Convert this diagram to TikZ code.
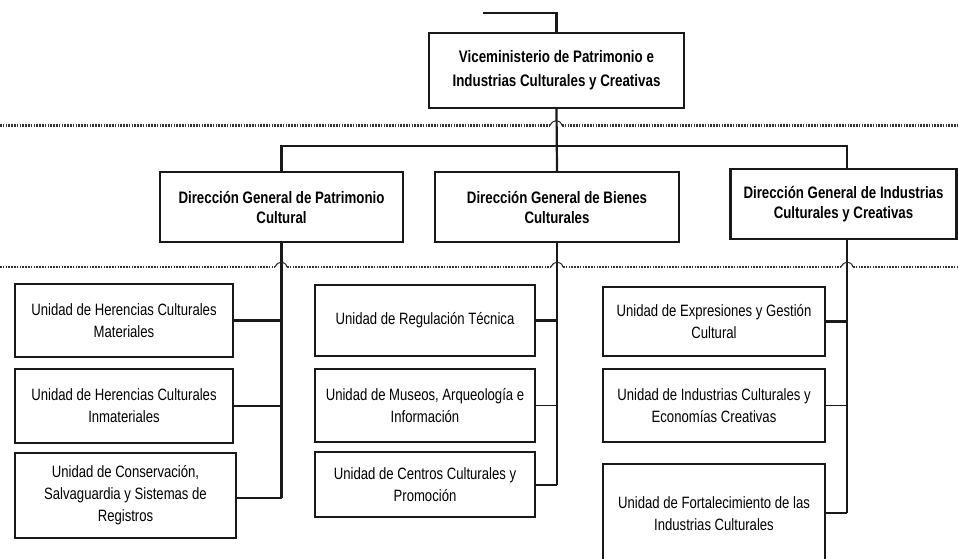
\documentclass[tikz,border=0pt]{standalone}
\usepackage{fontspec}
\setmainfont[FakeStretch=0.8]{Liberation Sans}
\begin{document}
\begin{tikzpicture}[x=1pt,y=-1pt,
  box/.style={draw=black!90,line width=2.2pt,fill=white,align=center,inner sep=0pt,font=\fontsize{16.4}{22}\selectfont},
  hbox/.style={box,font=\fontsize{16.6}{20}\selectfont\bfseries},
  vbox/.style={box,font=\fontsize{16.7}{24}\selectfont\bfseries},
  conn/.style={line width=2.2pt,black!90},
  thin/.style={line width=1.3pt,black!90},
  dots/.style={line width=2.2pt,black!80,dash pattern=on 1.5pt off 1.3pt},
  hop/.style={line width=1pt,black!85}]
\useasboundingbox (0,0) rectangle (958,559);
\clip (0,0) rectangle (958,559);
% dotted separators
\draw[dots] (0,125.5) -- (550,125.5);
\draw[dots] (562,125.5) -- (958,125.5);
\draw[dots] (0,267) -- (275,267);
\draw[dots] (287,267) -- (551,267);
\draw[dots] (563,267) -- (841,267);
\draw[dots] (853,267) -- (958,267);
% top
\node[vbox,minimum width=255,minimum height=75] (vice) at (556.5,70.5) {Viceministerio de Patrimonio e\\Industrias Culturales y Creativas};
\coordinate (top) at (483,13);
\draw[conn] (top) -| (vice.north);
% level 2
\node[hbox,minimum width=243,minimum height=70] (dgp) at (281.5,207) {Direcci\'on General de Patrimonio\\Cultural};
\node[hbox,minimum width=244,minimum height=70] (dgb) at (557,207) {Direcci\'on General de Bienes\\Culturales};
\node[hbox,minimum width=226,minimum height=70] (dgi) at (843.5,204) {Direcci\'on General de Industrias\\Culturales y Creativas};
\coordinate (hR) at (847,146);
\coordinate (dR) at (847,239);
\draw[conn] (vice.south) -- (dgb.north);
\draw[conn] (dgp.north) |- (hR) -- (hR |- dgi.north);
% level 3 left
\node[box,minimum width=218,minimum height=73] (u1) at (124,320.5) {Unidad de Herencias Culturales\\Materiales};
\node[box,minimum width=218,minimum height=74] (u2) at (124,406) {Unidad de Herencias Culturales\\Inmateriales};
\node[box,minimum width=221,minimum height=85] (u3) at (125.5,495.5) {Unidad de Conservaci\'on,\\Salvaguardia y Sistemas de\\Registros};
% level 3 middle
\node[box,minimum width=220,minimum height=71] (m1) at (425,320.5) {Unidad de Regulaci\'on T\'ecnica};
\node[box,minimum width=220,minimum height=73] (m2) at (425,405.5) {Unidad de Museos, Arqueolog\'ia e\\Informaci\'on};
\node[box,minimum width=220,minimum height=65] (m3) at (425,484.5) {Unidad de Centros Culturales y\\Promoci\'on};
% level 3 right
\node[box,minimum width=222,minimum height=69] (r1) at (714,321.5) {Unidad de Expresiones y Gesti\'on\\Cultural};
\node[box,minimum width=222,minimum height=73] (r2) at (714,405.5) {Unidad de Industrias Culturales y\\Econom\'ias Creativas};
\node[box,minimum width=222,minimum height=100] (r3) at (714,514) {Unidad de Fortalecimiento de las\\Industrias Culturales};
% verticals and connectors
\coordinate (lL) at (281.5,498);
\coordinate (lM) at (557,485);
\coordinate (lR) at (847,513);
\draw[conn] (dgp.south) -- (lL);
\draw[conn] (dgb.south) -- (lM);
\draw[conn] (dR) -- (lR);
\draw[conn] (u1.east) -- (u1.east -| lL);
\draw[thin] (u2.east) -- (u2.east -| lL);
\draw[conn] (lL) -- (lL -| u3.east);
\draw[conn] (m1.east) -- (m1.east -| lM);
\draw[thin] (m2.east) -- (m2.east -| lM);
\draw[conn] (lM) -- (lM -| m3.east);
\draw[conn] (r1.east) -- (r1.east -| lR);
\draw[thin] (r2.east) -- (r2.east -| lR);
\draw[conn] (lR) -- (lR -| r3.east);
% hops at crossings
\draw[hop] (550,125.5) .. controls (553,119) and (560,119) .. (562,125.5);
\draw[hop] (275,267) .. controls (278,260.5) and (285,260.5) .. (287,267);
\draw[hop] (551,267) .. controls (554,260.5) and (561,260.5) .. (563,267);
\draw[hop] (841,267) .. controls (844,260.5) and (851,260.5) .. (853,267);
\end{tikzpicture}
\end{document}
